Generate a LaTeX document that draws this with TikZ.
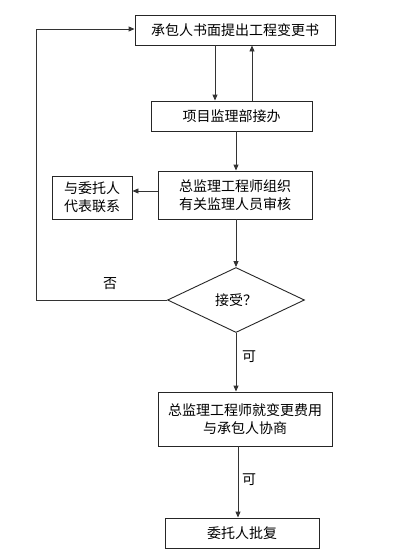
\documentclass[tikz,border=0pt]{standalone}
\usepackage{fontspec}
\setmainfont{Liberation Sans}
\newfontfamily\cjk{Noto Sans CJK SC}
\usetikzlibrary{shapes.geometric,arrows.meta}
\begin{document}
\begin{tikzpicture}[x=1pt,y=-1pt,
  box/.style={draw=black!85,line width=0.9pt,rectangle,inner sep=0pt,font=\cjk\fontsize{14}{18}\selectfont,align=center},
  dia/.style={draw=black!85,line width=0.9pt,diamond,inner sep=0pt,font=\cjk\fontsize{14}{18}\selectfont},
  conn/.style={draw=black!80,line width=0.9pt,-{Triangle[length=6pt,width=5pt]}},
  lbl/.style={font=\cjk\fontsize{14}{18}\selectfont}]
\useasboundingbox (0,0) rectangle (405,560);
\node[box,minimum width=200pt,minimum height=30pt] (b1) at (235,30) {承包人书面提出工程变更书};
\node[box,minimum width=161pt,minimum height=30pt] (b2) at (231.5,116) {项目监理部接办};
\node[box,minimum width=154pt,minimum height=48pt] (b3) at (235,195) {总监理工程师组织\\有关监理人员审核};
\node[box,minimum width=80pt,minimum height=43pt] (b4) at (92,197.5) {与委托人\\代表联系};
\node[dia,minimum width=137pt,minimum height=65pt] (d) at (236,300) {接受？};
\node[box,minimum width=174pt,minimum height=54pt] (b5) at (245,419) {总监理工程师就变更费用\\与承包人协商};
\node[box,minimum width=154pt,minimum height=30pt] (b6) at (242,533) {委托人批复};
\coordinate (c1) at (36,300);
\coordinate (c2) at (36,29);
\draw[conn] (b1.south -| 215,0) -- (b2.north -| 215,0);
\draw[conn] (b2.north -| 252,0) -- (b1.south -| 252,0);
\draw[conn] (b2.south -| 236,0) -- (b3.north -| 236,0);
\draw[conn] (b3.west |- 0,191) -- (b4.east |- 0,191);
\draw[conn] (b3.south -| 236,0) -- (d.north);
\draw[conn] (d.west) -- (c1) -- (c2) -- (b1.west |- c2);
\draw[conn] (d.south) -- (b5.north -| d.south);
\draw[conn] (b5.south -| 238,0) -- (b6.north -| 238,0);
\node[lbl] (no) at (110,284) {否};
\node[lbl] (ok1) at (249,357) {可};
\node[lbl] (ok2) at (249,480) {可};
\end{tikzpicture}
\end{document}
